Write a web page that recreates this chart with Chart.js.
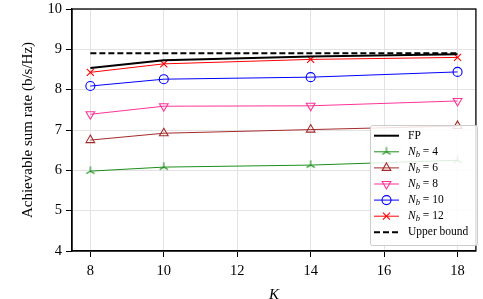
<!DOCTYPE html>
<html><head><meta charset="utf-8">
<script src="https://cdn.jsdelivr.net/npm/chart.js@4/dist/chart.umd.min.js"></script>
<style>html,body{margin:0;padding:0;background:#fff}#wrap{width:483px;height:299px}</style>
</head><body><div id="wrap"><canvas id="c" width="483" height="299"></canvas></div>
<script>
const K = [8, 10, 14, 18];
const fp = [8.54, 8.73, 8.82, 8.88];
const nb4 = [5.98, 6.08, 6.13, 6.25];
const nb6 = [6.75, 6.92, 7.01, 7.10];
const nb8 = [7.39, 7.59, 7.60, 7.72];
const nb10 = [8.09, 8.26, 8.31, 8.44];
const nb12 = [8.43, 8.64, 8.75, 8.80];
const upper = [8.90, 8.90, 8.90, 8.90];
const xTicks = [8, 10, 12, 14, 16, 18];
const yTicks = [4, 5, 6, 7, 8, 9, 10];

function triCanvas(color){
  const c = document.createElement('canvas'); c.width = 12; c.height = 12;
  const g = c.getContext('2d'); g.strokeStyle = color; g.lineWidth = 1.1;
  const cx = 6, cy = 6, r = 4.8;
  g.beginPath();
  g.moveTo(cx, cy); g.lineTo(cx, cy - r);
  g.moveTo(cx, cy); g.lineTo(cx - r*0.87, cy + r*0.5);
  g.moveTo(cx, cy); g.lineTo(cx + r*0.87, cy + r*0.5);
  g.stroke();
  return c;
}
const pts = a => K.map((k,i)=>({x:k, y:a[i]}));
const series = [
  {label:'FP', data:fp, color:'#000000', width:2, style:false},
  {label:'4', data:nb4, color:'#1a8f1a', width:1, style:triCanvas('#1a8f1a'), radius:6},
  {label:'6', data:nb6, color:'#a52a2a', width:1, style:'triangle', radius:5},
  {label:'8', data:nb8, color:'#ff3399', width:1, style:'triangle', rotation:180, radius:5},
  {label:'10', data:nb10, color:'#0000ff', width:1, style:'circle', radius:4.5},
  {label:'12', data:nb12, color:'#ff0000', width:1, style:'crossRot', radius:5},
  {label:'Upper bound', data:upper, color:'#000000', width:2, style:false, dash:[6,3]}
];
const datasets = series.map(s=>({
  label: s.label, data: pts(s.data), borderColor: s.color, backgroundColor: 'rgba(0,0,0,0)',
  borderWidth: s.width, borderDash: s.dash || [], pointStyle: s.style, pointRadius: s.style ? s.radius : 0,
  pointRotation: s.rotation || 0, pointBorderColor: s.color, pointBackgroundColor: 'rgba(0,0,0,0)',
  pointBorderWidth: 1.1, tension: 0
}));

const frame = {
  id:'frame',
  afterDraw(chart){
    const {ctx, chartArea:a} = chart;
    ctx.save(); ctx.strokeStyle='#000'; ctx.lineWidth=1.3;
    ctx.strokeRect(a.left, a.top, a.right-a.left, a.bottom-a.top);
    // legend
    const bx=370, by=125, bw=107, bh=120;
    ctx.fillStyle='rgba(255,255,255,0.85)'; ctx.strokeStyle='#cccccc'; ctx.lineWidth=1;
    ctx.beginPath(); ctx.roundRect(bx+0.5, by+0.5, bw, bh, 2); ctx.fill(); ctx.stroke();
    const rowH = 16.1, y0 = 135.7;
    series.forEach((s,i)=>{
      const y = y0 + i*rowH;
      ctx.strokeStyle = s.color; ctx.lineWidth = s.width; ctx.setLineDash(s.dash || []);
      ctx.beginPath(); ctx.moveTo(374, y); ctx.lineTo(399, y); ctx.stroke();
      ctx.setLineDash([]);
      if (s.style){
        ctx.lineWidth = 1.1; ctx.strokeStyle = s.color; ctx.fillStyle='rgba(0,0,0,0)';
        Chart.helpers.drawPoint(ctx, {pointStyle:s.style, radius:s.radius, rotation:s.rotation||0, borderWidth:1.1}, 386.5, y);
      }
      ctx.fillStyle='#000'; ctx.textBaseline='middle'; ctx.textAlign='left';
      let x = 408;
      if (s.label==='FP' || s.label==='Upper bound'){
        ctx.font='11.5px "Liberation Serif"'; ctx.fillText(s.label, x, y);
      } else {
        ctx.font='italic 11.5px "Liberation Serif"'; ctx.fillText('N', x, y); x += ctx.measureText('N').width;
        ctx.font='italic 8.5px "Liberation Serif"'; ctx.fillText('b', x, y+3); x += ctx.measureText('b').width;
        ctx.font='11.5px "Liberation Serif"'; ctx.fillText(' = ' + s.label, x, y);
      }
    });
    ctx.restore();
  }
};

Chart.defaults.font.family = '"Liberation Serif"';
Chart.defaults.color = '#000';
new Chart(document.getElementById('c'), {
  type:'line',
  data:{datasets},
  options:{
    responsive:false, animation:false, devicePixelRatio:1,
    layout:{padding:{top:0, right:5, left:19, bottom:0}},
    plugins:{legend:{display:false}, tooltip:{enabled:false}},
    scales:{
      x:{type:'linear', min:7.5, max:18.5,
        afterBuildTicks(s){ s.ticks = xTicks.map(v=>({value:v})); },
        afterFit(s){ s.height = 48; s.paddingLeft = 0; s.paddingRight = 0; },
        ticks:{font:{size:14.5}, padding:5, maxRotation:0},
        grid:{color:'#e3e3e3', tickColor:'#000', tickLength:6},
        border:{color:'#000', width:1.3},
        title:{display:true, text:'K', font:{size:15, style:'italic'}, padding:{top:4, bottom:-5}}
      },
      y:{type:'linear', min:4, max:10,
        afterBuildTicks(s){ s.ticks = yTicks.map(v=>({value:v})); },
        afterFit(s){ s.width = 53; s.paddingTop = 9; s.paddingBottom = 0; },
        ticks:{font:{size:14.5}, padding:4},
        grid:{color:'#e3e3e3', tickColor:'#000', tickLength:6},
        border:{color:'#000', width:1.3},
        title:{display:true, text:'Achievable sum rate (b/s/Hz)', font:{size:15}, padding:{top:0, bottom:0}}
      }
    }
  },
  plugins:[frame]
});
</script></body></html>
